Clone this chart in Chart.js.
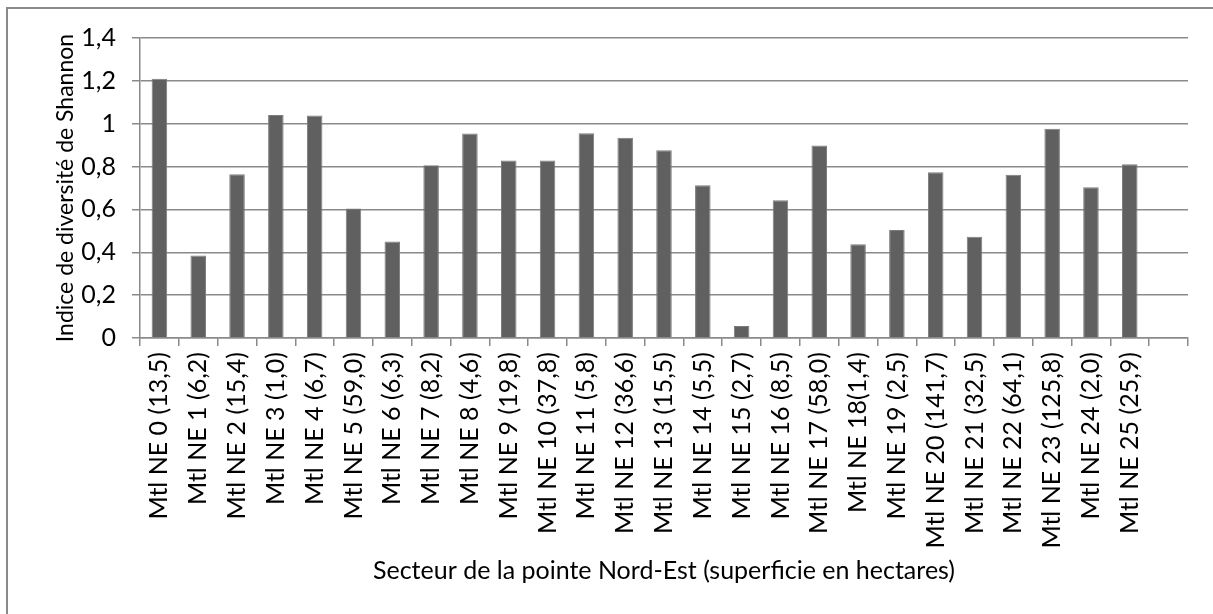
<!DOCTYPE html>
<html lang="fr">
<head>
<meta charset="utf-8">
<title>Indice de diversité de Shannon</title>
<script src="https://cdn.jsdelivr.net/npm/chart.js@4.4.1/dist/chart.umd.min.js"></script>
<style>
  html, body { margin: 0; padding: 0; background: #fff; }
  #wrap { position: relative; width: 1213px; height: 614px; }
</style>
</head>
<body>
<div id="wrap"><canvas id="shannonChart"></canvas></div>
<script>
// --- Data ---
const sectorLabels = [
    'Mtl NE 0 (13,5)', 'Mtl NE 1 (6,2)', 'Mtl NE 2 (15,4)', 'Mtl NE 3 (1,0)',
    'Mtl NE 4 (6,7)', 'Mtl NE 5 (59,0)', 'Mtl NE 6 (6,3)', 'Mtl NE 7 (8,2)',
    'Mtl NE 8 (4,6)', 'Mtl NE 9 (19,8)', 'Mtl NE 10 (37,8)', 'Mtl NE 11 (5,8)',
    'Mtl NE 12 (36,6)', 'Mtl NE 13 (15,5)', 'Mtl NE 14 (5,5)', 'Mtl NE 15 (2,7)',
    'Mtl NE 16 (8,5)', 'Mtl NE 17 (58,0)', 'Mtl NE 18(1,4)', 'Mtl NE 19 (2,5)',
    'Mtl NE 20 (141,7)', 'Mtl NE 21 (32,5)', 'Mtl NE 22 (64,1)', 'Mtl NE 23 (125,8)',
    'Mtl NE 24 (2,0)', 'Mtl NE 25 (25,9)', ''
];

const shannonValues = [
    1.21, 0.385, 0.764, 1.041, 1.038, 0.604, 0.45, 0.806,
    0.954, 0.828, 0.828, 0.955, 0.935, 0.876, 0.713, 0.056,
    0.643, 0.898, 0.437, 0.504, 0.773, 0.473, 0.762, 0.977,
    0.703, 0.811, null
];

const yTickLabels = ['0', '0,2', '0,4', '0,6', '0,8', '1', '1,2', '1,4'];

const yTitle = 'Indice de diversité de Shannon';
const xTitle = 'Secteur de la pointe Nord-Est (superficie en hectares)';

// --- Styling ---
const FONT = 'Lato, "Open Sans", sans-serif';
const GRID = '#8a8a8a';
const BAR = '#606060';

// White background plus the thin frame around the whole chart
const framePlugin = {
    id: 'frame',
    beforeDraw(chart) {
        const ctx = chart.ctx;
        ctx.save();
        ctx.fillStyle = '#ffffff';
        ctx.fillRect(0, 0, chart.width, chart.height);
        ctx.strokeStyle = GRID;
        ctx.lineWidth = 2;
        ctx.strokeRect(7, 8, chart.width + 20, chart.height + 20);
        ctx.restore();
    }
};

const chartCanvas = document.getElementById('shannonChart').getContext('2d');

new Chart(chartCanvas, {
    type: 'bar',
    data: {
        labels: sectorLabels,
        datasets: [{
            data: shannonValues,
            backgroundColor: BAR,
            borderColor: '#7c7c7c',
            borderWidth: 1,
            categoryPercentage: 1,
            barPercentage: 0.4
        }]
    },
    options: {
        responsive: true,
        maintainAspectRatio: false,
        animation: false,
        devicePixelRatio: 1,
        layout: { padding: { top: 38, right: 25, left: 0, bottom: 0 } },
        plugins: {
            legend: { display: false },
            tooltip: { enabled: false }
        },
        scales: {
            x: {
                offset: true,
                afterFit: (scale) => { scale.height = 276; },
                grid: {
                    offset: true,
                    drawOnChartArea: false,
                    drawTicks: true,
                    tickLength: 8,
                    color: GRID,
                    lineWidth: 1.5
                },
                border: { color: GRID, width: 1.5 },
                ticks: {
                    autoSkip: false,
                    minRotation: 90,
                    maxRotation: 90,
                    padding: 6,
                    color: '#000',
                    font: { family: FONT, size: 25 }
                },
                title: {
                    display: true,
                    text: xTitle,
                    color: '#000',
                    font: { family: FONT, size: 25 },
                    padding: { top: 0, bottom: 28 }
                }
            },
            y: {
                min: 0,
                max: 1.4,
                afterFit: (scale) => { scale.width = 140; },
                grid: {
                    color: GRID,
                    lineWidth: 1.5,
                    tickLength: 8
                },
                border: { color: GRID, width: 1.5 },
                ticks: {
                    stepSize: 0.2,
                    padding: 16,
                    color: '#000',
                    font: { family: FONT, size: 25 },
                    callback: (value, index) => yTickLabels[index]
                },
                title: {
                    display: true,
                    text: yTitle,
                    color: '#000',
                    font: { family: FONT, size: 23 },
                    padding: { top: 52, bottom: 0 }
                }
            }
        }
    },
    plugins: [framePlugin]
});
</script>
</body>
</html>
